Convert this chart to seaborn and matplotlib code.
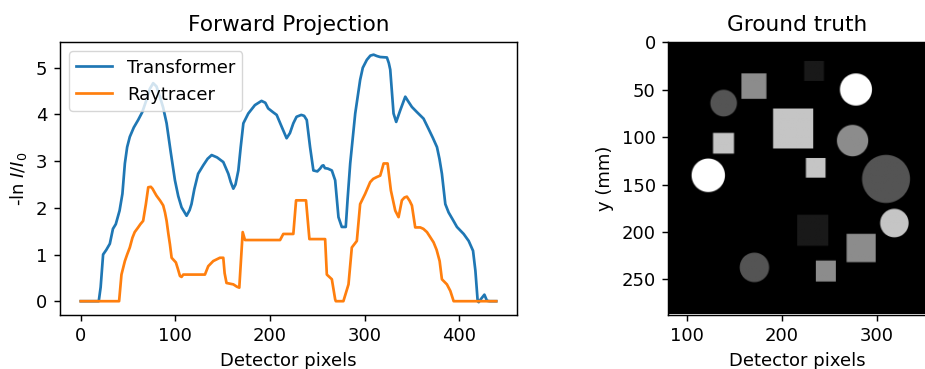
import numpy as np
import pandas as pd
import matplotlib
matplotlib.use("Agg")
import matplotlib.pyplot as plt
import seaborn as sns

# ---------------- data ----------------
transformer_x = [0, 19, 21, 23.6, 27, 30.7, 34, 37, 41, 44, 46.6, 49, 51.8, 56, 60.6, 65, 69.4, 73, 76.5, 80,
                 83.6, 87, 90.7, 95, 99.5, 103, 106.5, 111.8, 115, 117, 120, 124, 129.4, 134, 138.3, 144, 150.6,
                 155.9, 158.5, 161.2, 163.5, 166.5, 169, 171.8, 177, 184, 191, 195, 198, 203, 207, 212, 217.5, 221,
                 224.6, 228, 233, 236, 238.8, 242.3, 245.8, 250, 252.9, 255, 256.4, 258, 261, 265.3, 268.8, 272.3,
                 275.8, 280, 282, 284.7, 290, 295.2, 298, 302.3, 306, 309.4, 313, 316.4, 323.5, 325.5, 327, 330.5,
                 333.3, 337.6, 342.9, 346, 349.9, 355.2, 362.2, 367.5, 372, 376.4, 379, 381.6, 385.2, 388.7, 393,
                 397.5, 404.6, 409.9, 414.5, 417, 419.4, 420.5, 423, 426.5, 429.2, 432, 439]
transformer_y = [0, 0, 0.3, 1.0, 1.1, 1.23, 1.55, 1.65, 1.94, 2.3, 2.95, 3.3, 3.52, 3.72, 3.88, 4.05, 4.31, 4.55,
                 4.67, 4.6, 4.38, 4.15, 3.81, 3.2, 2.59, 2.25, 2.01, 1.83, 1.95, 2.08, 2.4, 2.73, 2.91, 3.05, 3.13,
                 3.08, 2.98, 2.73, 2.55, 2.41, 2.5, 2.80, 3.3, 3.81, 4.02, 4.2, 4.29, 4.25, 4.13, 4.05, 3.99, 3.75,
                 3.49, 3.6, 3.81, 3.95, 3.99, 3.97, 3.88, 3.30, 2.80, 2.78, 2.84, 2.90, 2.91, 2.85, 2.84, 2.80, 2.59,
                 1.80, 1.59, 1.59, 2.2, 2.95, 4.02, 4.74, 5.0, 5.17, 5.26, 5.28, 5.25, 5.23, 5.22, 5.1, 4.96, 4.02,
                 3.84, 4.09, 4.38, 4.28, 4.16, 4.05, 3.91, 3.69, 3.5, 3.30, 3.05, 2.73, 2.08, 1.90, 1.75, 1.59, 1.44,
                 1.29, 1.08, 0.65, 0.0, -0.02, 0.05, 0.14, 0.01, 0, 0]

raytracer_x = [0, 40.5, 43, 46.6, 49, 51.8, 54.6, 57, 60.6, 63, 65.9, 68.8, 71.3, 74, 75.8, 78, 80, 84, 87.1, 89,
               90.7, 92.5, 94.2, 96, 100.5, 102.5, 104.8, 106.5, 108.3, 131.2, 134.7, 140, 147, 150.6, 152, 154,
               161.2, 165, 167.5, 171.1, 173.5, 210.6, 214, 224.6, 227.5, 238, 241.6, 258.2, 260, 265.3, 268.8,
               269.5, 277.5, 282.9, 286.4, 291.7, 295.2, 300.5, 305.8, 309, 312.9, 316.4, 318, 320, 324.2, 327.7,
               332.3, 335.8, 339.3, 342, 344.6, 347.5, 349.9, 353.4, 358.7, 362, 365.8, 369, 372.8, 376, 379.2,
               381.6, 386.9, 390.5, 394, 439]
raytracer_y = [0, 0, 0.57, 0.86, 1.0, 1.15, 1.36, 1.48, 1.58, 1.65, 1.72, 2.08, 2.44, 2.45, 2.41, 2.33, 2.26, 2.15,
               2.05, 1.9, 1.72, 1.45, 1.22, 0.93, 0.83, 0.7, 0.54, 0.52, 0.57, 0.57, 0.75, 0.86, 0.93, 0.93, 0.6,
               0.39, 0.36, 0.31, 0.29, 1.48, 1.31, 1.31, 1.44, 1.44, 2.16, 2.16, 1.33, 1.33, 0.57, 0.47, 0.04, 0,
               0, 0.36, 1.15, 1.29, 2.08, 2.30, 2.55, 2.62, 2.66, 2.69, 2.8, 2.95, 2.95, 2.37, 1.94, 1.80, 2.16,
               2.22, 2.24, 2.15, 2.05, 1.58, 1.58, 1.55, 1.48, 1.38, 1.26, 1.1, 0.86, 0.47, 0.36, 0.22, 0, 0]

# ground-truth phantom shapes (detector pixels / mm)
circle_cx = [278.2, 138.7, 274.6, 122.5, 309.9, 318.7, 171.1]
circle_cy = [51.0, 65.3, 104.7, 141.2, 145.0, 191.4, 238.0]
circle_r = [16.9, 14.0, 16.5, 17.6, 25.3, 15.0, 15.5]
circle_val = [1.0, 0.33, 0.55, 1.0, 0.33, 0.77, 0.33]

square_x0 = [223.6, 157.4, 190.8, 127.5, 225.4, 216.2, 268.3, 235.9]
square_x1 = [244.4, 183.8, 233.1, 149.6, 246.1, 249.0, 299.0, 257.0]
square_y0 = [21.0, 34.0, 71.0, 96.6, 123.0, 182.6, 202.7, 230.8]
square_y1 = [42.0, 60.8, 113.0, 118.4, 143.7, 215.3, 232.5, 252.9]
square_val = [0.1, 0.55, 0.77, 0.77, 0.77, 0.1, 0.55, 0.55]

img_xmin, img_xmax, img_ymin, img_ymax = 80, 352, 0, 287

# ---------------- figure ----------------
s = 1.3
plt.rcParams.update({
    'font.family': ['DejaVu Sans'],
    'font.size': 10 * s,
    'axes.linewidth': 0.8 * s,
    'xtick.major.size': 3.5 * s, 'ytick.major.size': 3.5 * s,
    'xtick.major.width': 0.8 * s, 'ytick.major.width': 0.8 * s,
    'xtick.major.pad': 3.5 * s, 'ytick.major.pad': 3.5 * s,
    'axes.labelpad': 4 * s, 'axes.titlepad': 6 * s,
})
fig = plt.figure(figsize=(9.25, 3.69), dpi=100)

ax1 = fig.add_axes([60 / 925, (369 - 314.5) / 369, (517 - 60) / 925, (314.5 - 42.3) / 369])
df = pd.concat([
    pd.DataFrame({"x": transformer_x, "y": transformer_y, "series": "Transformer"}),
    pd.DataFrame({"x": raytracer_x, "y": raytracer_y, "series": "Raytracer"}),
])
sns.lineplot(data=df, x="x", y="y", hue="series", palette=["#1f77b4", "#ff7f0e"],
             sort=False, estimator=None, ax=ax1, linewidth=1.5 * s)
ax1.legend(loc="upper left", fontsize=10 * s)
ax1.set_title("Forward Projection", fontsize=12 * s)
ax1.set_xlabel("Detector pixels", fontsize=10 * s)
ax1.set_ylabel("-ln $I/I_0$", fontsize=10 * s)
ax1.tick_params(labelsize=10 * s)
ax1.set_xticks([0, 100, 200, 300, 400])
ax1.set_yticks([0, 1, 2, 3, 4, 5])
ax1.margins(x=0.05, y=0.05)

# build phantom image from shape lists
xs = np.arange(img_xmin, img_xmax) + 0.5
ys = np.arange(img_ymin, img_ymax) + 0.5
X, Y = np.meshgrid(xs, ys)
img = np.zeros_like(X)
for cx, cy, r, v in zip(circle_cx, circle_cy, circle_r, circle_val):
    d = np.sqrt((X - cx) ** 2 + (Y - cy) ** 2)
    w = np.clip(r - d + 0.5, 0, 1)
    img = img * (1 - w) + v * w
for x0, x1, y0, y1, v in zip(square_x0, square_x1, square_y0, square_y1, square_val):
    wx = np.clip(np.minimum(X - x0, x1 - X) + 0.5, 0, 1)
    wy = np.clip(np.minimum(Y - y0, y1 - Y) + 0.5, 0, 1)
    w = wx * wy
    img = img * (1 - w) + v * w

right_w = (img_xmax - img_xmin) * 0.947 / 925
ax2 = fig.add_axes([668.3 / 925, (369 - 314.5) / 369, right_w, (314.5 - 42.3) / 369])
ax2.imshow(img, cmap="gray", vmin=0, vmax=1, extent=[img_xmin, img_xmax, img_ymax, img_ymin],
           aspect="auto", interpolation="bilinear")
ax2.set_xlim(img_xmin, img_xmax)
ax2.set_ylim(img_ymax, img_ymin)
ax2.set_xticks([100, 200, 300])
ax2.set_yticks([0, 50, 100, 150, 200, 250])
ax2.set_title("Ground truth", fontsize=12 * s)
ax2.set_xlabel("Detector pixels", fontsize=10 * s)
ax2.set_ylabel("y (mm)", fontsize=10 * s)
ax2.tick_params(labelsize=10 * s)

fig.savefig("out.png", dpi=100)
